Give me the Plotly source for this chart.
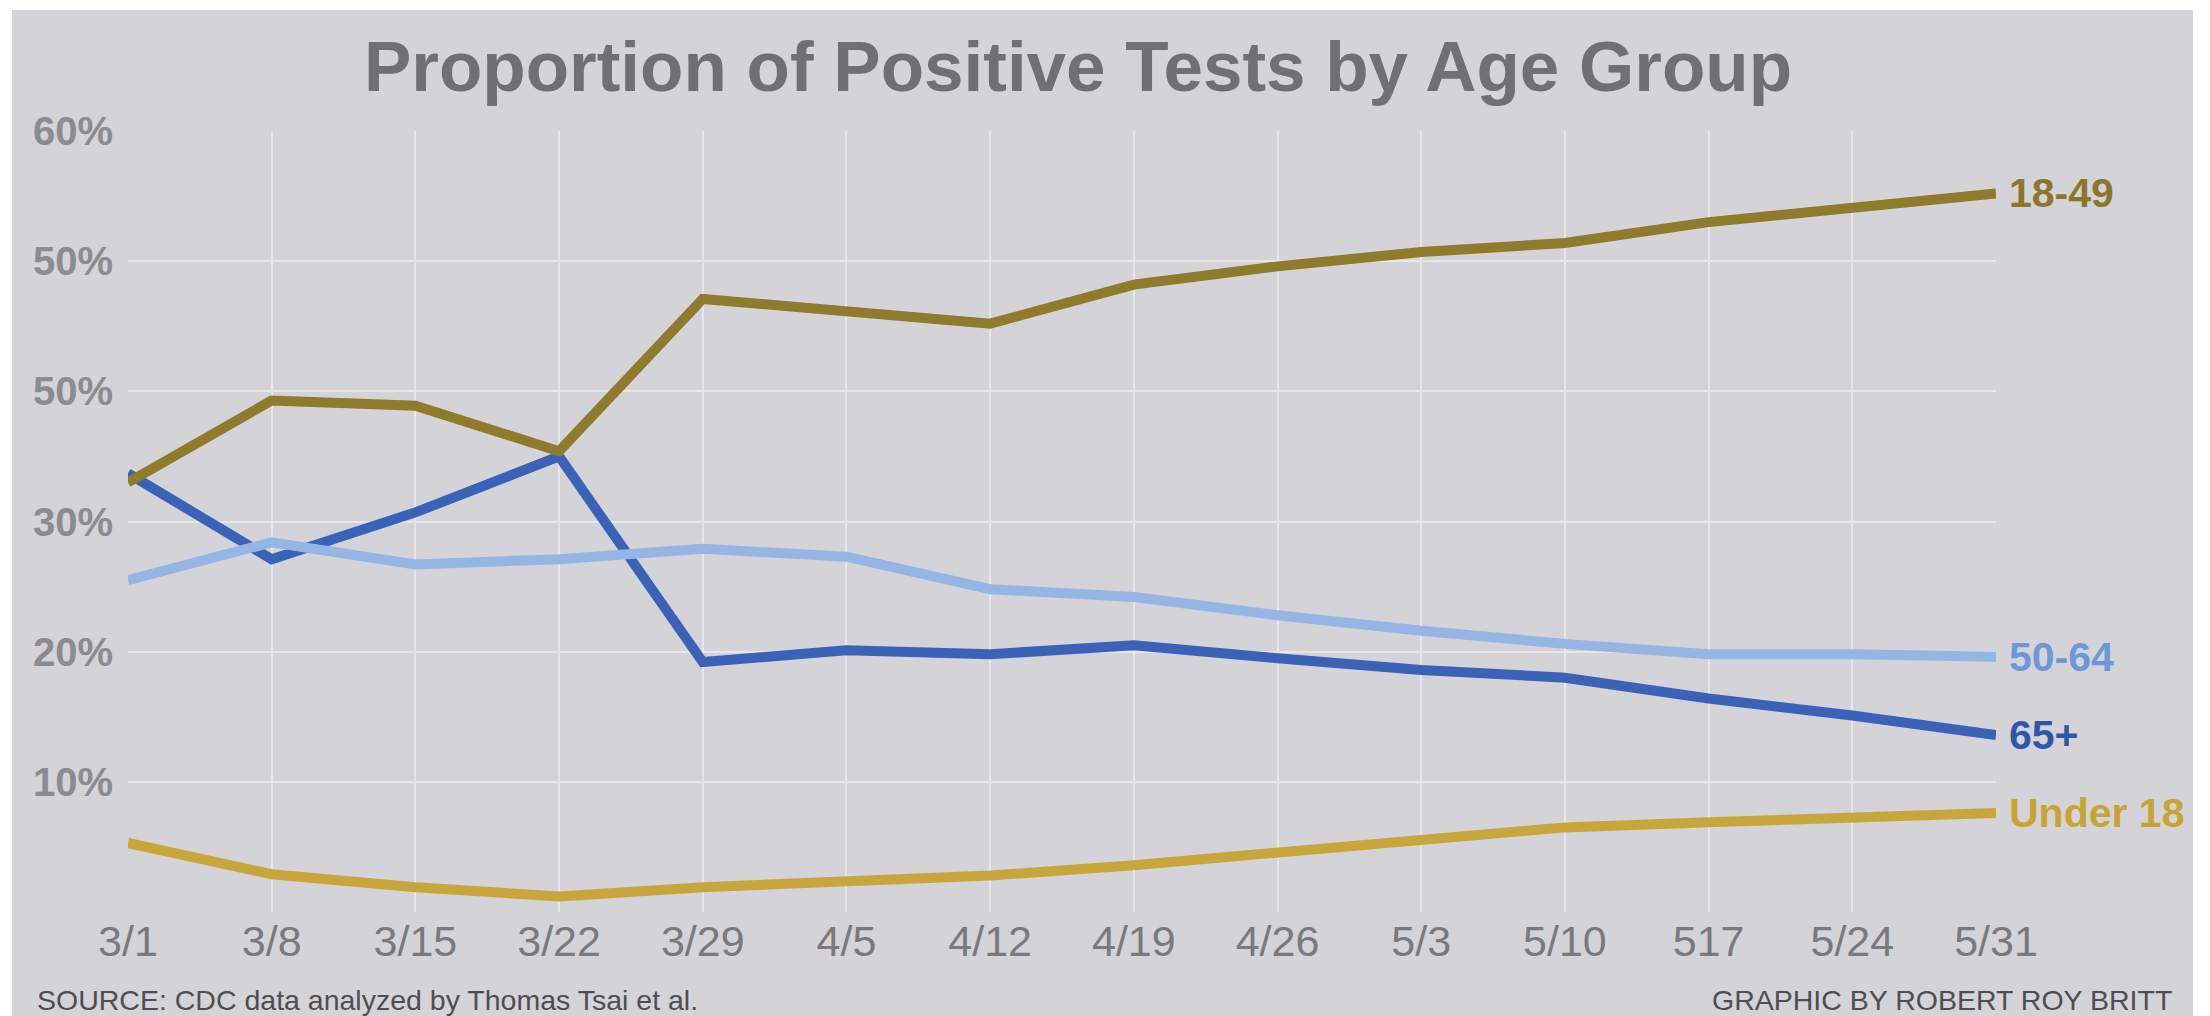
import plotly.graph_objects as go

# ---- data ----
dates = ["3/1", "3/8", "3/15", "3/22", "3/29", "4/5", "4/12",
         "4/19", "4/26", "5/3", "5/10", "5/17", "5/24", "5/31"]
date_labels = ["3/1", "3/8", "3/15", "3/22", "3/29", "4/5", "4/12",
               "4/19", "4/26", "5/3", "5/10", "517", "5/24", "5/31"]

y_ticks = [0, 10, 20, 30, 40, 50, 60]
y_tick_labels = ["", "10%", "20%", "30%", "50%", "50%", "60%"]

age_under_18 = [5.3, 2.9, 1.9, 1.2, 1.9, 2.4, 2.8, 3.6, 4.6, 5.5, 6.5, 6.9, 7.3, 7.6]
age_65_plus = [33.7, 27.1, 30.7, 35.0, 19.2, 20.1, 19.8, 20.5, 19.5, 18.6, 18.0, 16.4, 15.1, 13.6]
age_50_64 = [25.5, 28.4, 26.7, 27.1, 27.9, 27.3, 24.8, 24.2, 22.8, 21.6, 20.6, 19.8, 19.8, 19.6]
age_18_49 = [33.0, 39.3, 38.9, 35.4, 47.1, 46.2, 45.2, 48.2, 49.6, 50.7, 51.4, 53.0, 54.1, 55.2]

series_names = ["Under 18", "65+", "50-64", "18-49"]
series_values = [age_under_18, age_65_plus, age_50_64, age_18_49]
line_colors = ["#c9a63b", "#3a63b8", "#95b6e4", "#8f7b2c"]
label_colors = ["#c8a433", "#2f56aa", "#6c98d9", "#8a772b"]

# ---- layout geometry ----
W, H = 2210, 1016
ML, MR, MT, MB = 128, 214, 131, 104
PW, PH = W - ML - MR, H - MT - MB


def px_x(px):
    return (px - ML) / PW


def px_y(py):
    return (H - MB - py) / PH


BG = "#d4d3d7"
GRID = "#e7e7e9"
SANS = "Liberation Sans, Arial, Helvetica, sans-serif"

fig = go.Figure()
for name, vals, col in zip(series_names, series_values, line_colors):
    fig.add_trace(go.Scatter(
        x=dates, y=vals, mode="lines", name=name,
        line=dict(color=col, width=10),
        hoverinfo="x+y+name",
    ))

annotations = []
for name, vals, col in zip(series_names, series_values, label_colors):
    annotations.append(dict(
        text=f"<b>{name}</b>", x=1, xref="paper", xshift=11, xanchor="left",
        y=vals[-1], yref="y", yanchor="middle", showarrow=False,
        font=dict(family=SANS, size=41, color=col),
    ))

annotations.append(dict(
    text="<b>Proportion of Positive Tests by Age Group</b>",
    x=px_x(1078), xref="paper", xanchor="center",
    y=px_y(67), yref="paper", yanchor="middle", showarrow=False,
    font=dict(family=SANS, size=71, color="#707074"),
))
annotations.append(dict(
    text="SOURCE: CDC data analyzed by Thomas Tsai et al.",
    x=px_x(35), xref="paper", xanchor="left",
    y=px_y(1000), yref="paper", yanchor="middle", showarrow=False,
    font=dict(family=SANS, size=28.5, color="#4e4e52"),
))
annotations.append(dict(
    text="GRAPHIC BY ROBERT ROY BRITT",
    x=px_x(2174), xref="paper", xanchor="right",
    y=px_y(1000), yref="paper", yanchor="middle", showarrow=False,
    font=dict(family=SANS, size=28.5, color="#4e4e52"),
))

shapes = [dict(
    type="rect", xref="paper", yref="paper", layer="below",
    x0=px_x(12), x1=px_x(2193), y0=px_y(1016), y1=px_y(10),
    fillcolor=BG, line=dict(width=0),
)]

fig.update_layout(
    width=W, height=H, autosize=False,
    margin=dict(l=ML, r=MR, t=MT, b=MB, autoexpand=False),
    paper_bgcolor="white", plot_bgcolor="rgba(0,0,0,0)",
    showlegend=False,
    annotations=annotations, shapes=shapes,
    xaxis=dict(
        type="category", range=[0, len(dates) - 1],
        tickmode="array", tickvals=dates, ticktext=date_labels,
        showgrid=True, gridcolor=GRID, gridwidth=2,
        showline=False, zeroline=False, ticks="",
        ticklabelstandoff=0,
        tickfont=dict(family=SANS, size=43, color="#79797e"),
    ),
    yaxis=dict(
        range=[0, 60], tickmode="array", tickvals=y_ticks, ticktext=y_tick_labels,
        showgrid=True, gridcolor=GRID, gridwidth=2,
        showline=False, zeroline=False, ticks="",
        ticklabelstandoff=14,
        tickfont=dict(family=SANS, size=40, color="#8b8b90", weight="bold"),
    ),
)

fig.write_html(
    "out.html",
    config={"displayModeBar": False},
    post_script="document.body.style.margin='0';document.body.style.overflow='hidden';",
)
